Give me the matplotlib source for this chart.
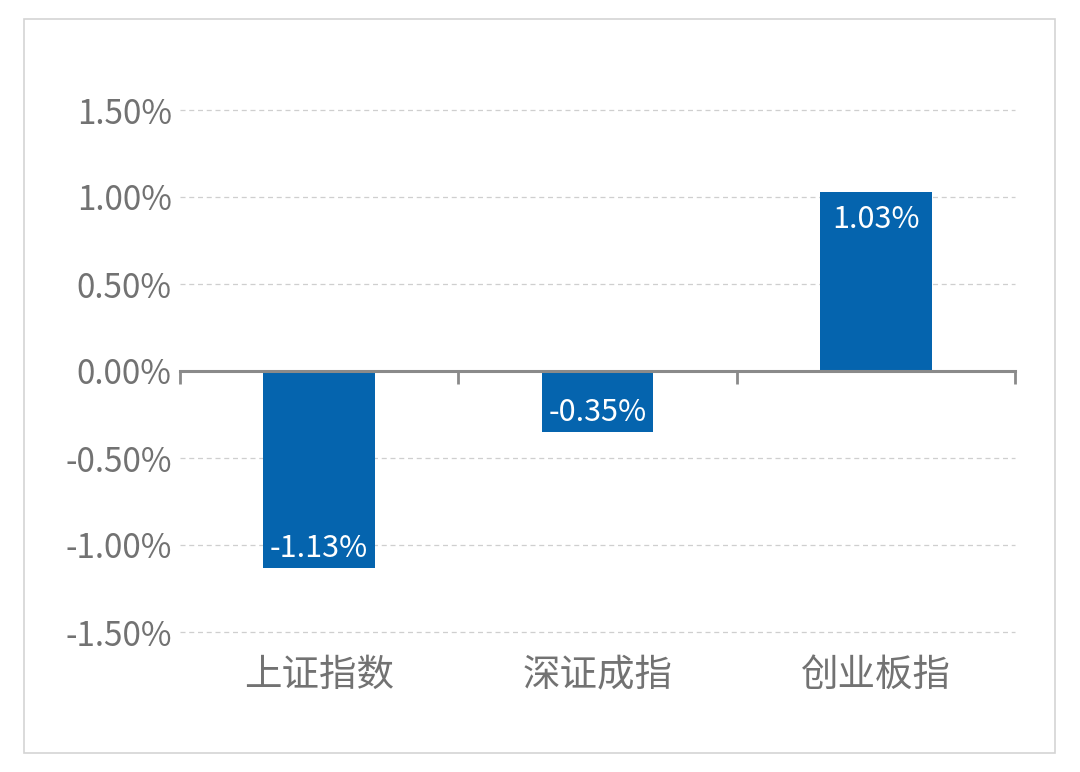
import matplotlib
matplotlib.use('Agg')
import matplotlib.pyplot as plt
from matplotlib.patches import Rectangle
from matplotlib.ticker import FuncFormatter, FixedLocator
import matplotlib.transforms as mtransforms
from matplotlib import font_manager

plt.rcParams['font.family'] = ['Noto Sans CJK SC', 'DejaVu Sans']

# data
categories = ['上证指数', '深证成指', '创业板指']
changes = [-1.13, -0.35, 1.03]
yticks = [-1.5, -1.0, -0.5, 0.0, 0.5, 1.0, 1.5]

bar_color = '#0564AE'
text_gray = '#727272'

# pick a light weight if the installed CJK font has one
light = 'light'
weights = [f.weight for f in font_manager.fontManager.ttflist if f.name == 'Noto Sans CJK SC']
if not any(w in (200, 300, 'light', 'extra-light') for w in weights):
    light = 'normal'

fig = plt.figure(figsize=(10.8, 7.72), dpi=100)
fig.patch.set_facecolor('white')

# light frame around the chart
fig.patches.append(Rectangle((24 / 1080, 1 - 753 / 772), (1055 - 24) / 1080, (753 - 19) / 772,
                             transform=fig.transFigure, fill=False, edgecolor='#d4d4d4', lw=1.2))

ax = fig.add_axes([180 / 1080, 1 - 632 / 772, (1015 - 180) / 1080, (632 - 110) / 772])
x = list(range(len(categories)))
ax.bar(x, changes, width=0.4, color=bar_color, zorder=3)

ax.set_xlim(-0.5, len(categories) - 0.5)
ax.set_ylim(-1.5, 1.5)

# dashed grid, no line at zero (axis line is there)
for v in yticks:
    if v != 0:
        ax.axhline(v, color='#cfcfcf', lw=0.9, ls=(0, (4, 3)), zorder=1, clip_on=False)

for s in ['top', 'right', 'left']:
    ax.spines[s].set_visible(False)
ax.spines['bottom'].set_position(('data', 0))
ax.spines['bottom'].set_color('#8a8a8a')
ax.spines['bottom'].set_linewidth(2.2)
ax.spines['bottom'].set_zorder(4)

ax.xaxis.set_major_locator(FixedLocator([-0.5 + i for i in range(len(categories) + 1)]))
ax.tick_params(axis='x', length=9, width=2, color='#8a8a8a', labelbottom=False, direction='out')

ax.yaxis.set_major_locator(FixedLocator(yticks))
ax.yaxis.set_major_formatter(FuncFormatter(lambda v, p: f'{v:.2f}%'))
ax.tick_params(axis='y', length=0, pad=6, labelsize=24, labelcolor=text_gray)
for lab in ax.get_yticklabels():
    lab.set_fontweight(light)

# category labels under the plot
trans = mtransforms.blended_transform_factory(ax.transData, ax.transAxes)
for xi, name in zip(x, categories):
    ax.text(xi, -0.083, name, transform=trans, ha='center', va='center',
            fontsize=27, color=text_gray, fontweight=light)

# value labels inside bar ends
for xi, v in zip(x, changes):
    off = -20 if v > 0 else 14
    ax.annotate(f'{v:.2f}%', (xi, v), xytext=(0, off), textcoords='offset points',
                ha='center', va='center', color='white', fontsize=22,
                fontweight=light, zorder=5)

fig.savefig('out.png', dpi=100, facecolor='white')
